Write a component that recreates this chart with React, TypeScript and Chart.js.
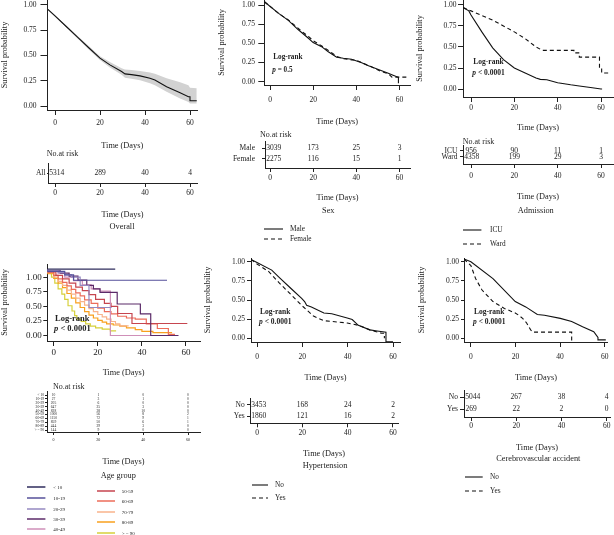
import React, { useEffect, useRef } from 'react';
import { Chart, registerables } from 'chart.js';
Chart.register(...registerables);

const SERIF = '"Liberation Serif", "DejaVu Serif", serif';
const INK = '#222222';
const CURVE = '#111111';

type Pt = [number, number];

// ---------- shared ticks ----------
const TIME_TICKS = [0, 20, 40, 60];
const PROB_TICKS = [0, 0.25, 0.5, 0.75, 1];
const RISK_TIMES = [0, 20, 40, 60];

// ---------- Overall (vertices of the drawn curve) ----------
const OVERALL: Pt[] = [[-3.3,0.957],[0,0.89],[5,0.785],[10,0.68],[15,0.575],[20,0.472],[24.4,0.406],[29.6,0.34],[31.1,0.317],[34,0.31],[37.8,0.297],[42.2,0.274],[44.4,0.257],[49.6,0.19],[55.6,0.13],[59.3,0.092],[60,0.092],[60,0.052],[63,0.052]];
const OVERALL_UPPER: Pt[] = [[-3.3,0.963],[0,0.898],[5,0.795],[10,0.693],[15,0.592],[20,0.49],[24.4,0.435],[29.6,0.372],[31.1,0.36],[34,0.355],[37.8,0.345],[42.2,0.33],[44.4,0.318],[49.6,0.275],[55.6,0.235],[59.3,0.205],[60,0.18],[63,0.175]];
const OVERALL_LOWER: Pt[] = [[-3.3,0.951],[0,0.882],[5,0.775],[10,0.667],[15,0.558],[20,0.454],[24.4,0.38],[29.6,0.308],[31.1,0.28],[34,0.27],[37.8,0.255],[42.2,0.225],[44.4,0.205],[49.6,0.14],[55.6,0.075],[59.3,0.04],[60,0.025],[63,0.025]];
const OVERALL_RISK = [5314, 289, 40, 4];

// ---------- Sex ----------
const MALE: Pt[] = [[-2.6,1.043],[4,0.89],[8.5,0.8],[13,0.68],[17.8,0.566],[20,0.51],[23.9,0.457],[27,0.39],[30.9,0.318],[34,0.305],[37.8,0.292],[42.5,0.248],[45,0.215],[48.7,0.175],[54.8,0.11],[57,0.085],[59.5,0.057],[59.5,-0.02]];
const FEMALE: Pt[] = [[-2.6,1.043],[4,0.89],[8.5,0.805],[15,0.65],[17.8,0.59],[20,0.535],[24,0.465],[28,0.39],[30.9,0.33],[34,0.3],[37.8,0.285],[40,0.28],[42.5,0.25],[47,0.195],[51,0.14],[55,0.1],[56.5,0.06],[64.5,0.06]];
const MALE_RISK = [3039, 173, 25, 3];
const FEMALE_RISK = [2275, 116, 15, 1];

// ---------- Admission ----------
const ICU: Pt[] = [[-3.7,0.97],[-1,0.93],[0,0.88],[5,0.68],[10,0.49],[15,0.35],[20,0.25],[25,0.19],[30,0.13],[32,0.115],[35,0.11],[40,0.075],[46,0.05],[50,0.036],[56,0.015],[60,0.0],[60.5,0.0]];
const WARD: Pt[] = [[-3.7,0.97],[0,0.93],[10,0.82],[20,0.68],[25,0.6],[30,0.5],[33,0.46],[47.5,0.46],[47.5,0.43],[50,0.43],[50,0.38],[59.3,0.38],[59.3,0.26],[60.3,0.26],[60.3,0.19],[63.5,0.19]];
const ICU_RISK = [956, 90, 11, 1];
const WARD_RISK = [4358, 199, 29, 3];

// ---------- Age group (step points) ----------
const AGE_GROUPS = ['< 10', '10-19', '20-29', '30-39', '40-49', '50-59', '60-69', '70-79', '80-89', '> = 90'];
const AGE_COLORS = ['#2f2d5c', '#56509a', '#9488c0', '#5b2a68', '#cf8fb8', '#c6454f', '#ec6d5a', '#f8b38b', '#f8a01e', '#d6d03a'];
const AGE_LT10: Pt[] = [[-2.9,1.137],[27.9,1.137]];
const AGE_10_19: Pt[] = [[-2.9,1.137],[5,1.1],[9,1.04],[12,0.948],[51.4,0.948]];
const AGE_20_29: Pt[] = [[-2.9,1.137],[2,1.11],[5,1.08],[8,1.04],[12,1.0],[16,0.86],[21.5,0.48],[26.3,0.48]];
const AGE_30_39: Pt[] = [[-2.9,1.137],[3,1.11],[7,1.07],[11,1.02],[15,0.95],[18,0.86],[21,0.8],[28.8,0.74],[39.3,0.54],[44,0.37],[56.6,0.0]];
const AGE_40_49: Pt[] = [[-2.9,1.137],[2,1.11],[5,1.07],[9,1.0],[13,0.94],[17,0.87],[21,0.8],[25.7,0.76],[49.9,0.0]];
const AGE_50_59: Pt[] = [[-2.9,1.137],[1,1.09],[4,1.03],[7,0.97],[10,0.9],[13,0.83],[16,0.77],[19,0.7],[23,0.62],[26,0.55],[29,0.5],[35.5,0.377],[56,0.206],[60.6,0.206]];
const AGE_60_69: Pt[] = [[-2.9,1.137],[0,1.09],[2,1.03],[4,0.97],[6,0.91],[8,0.85],[10,0.79],[12,0.73],[14,0.68],[17,0.61],[20,0.55],[23,0.47],[26,0.41],[29,0.37],[33,0.33],[37,0.3],[42,0.28],[47,0.2],[52,0.12],[55,0.02]];
const AGE_70_79: Pt[] = [[-2.9,1.137],[0,1.08],[2,1.0],[4,0.93],[6,0.86],[8,0.78],[10,0.71],[12,0.64],[14,0.58],[16,0.52],[18,0.46],[20,0.41],[22,0.36],[24,0.32],[26,0.28],[28,0.24],[30,0.2],[31,0.165],[34,0.165]];
const AGE_80_89: Pt[] = [[-2.9,1.137],[0,1.06],[2,0.98],[4,0.9],[6,0.82],[8,0.72],[10,0.64],[12,0.56],[14,0.48],[16,0.41],[18,0.35],[20,0.3],[22,0.26],[24,0.23],[27,0.2],[30,0.18],[33,0.16],[37,0.13],[40,0.1],[45,0.07],[50,0.05],[53.7,0.05]];
const AGE_GE90: Pt[] = [[-2.9,1.137],[-1,1.08],[0.5,1.0],[2,0.9],[3.7,0.8],[5,0.71],[6.5,0.62],[8.3,0.51],[9.5,0.42],[10.5,0.34],[12.5,0.28],[14.5,0.24],[16.6,0.2],[19,0.16],[22,0.13],[25.7,0.11],[27,0.08],[28.3,0.08]];
const AGE_RISK_LT10 = [10, 1, 0, 0];
const AGE_RISK_10_19 = [27, 3, 1, 0];
const AGE_RISK_20_29 = [205, 6, 0, 0];
const AGE_RISK_30_39 = [647, 25, 3, 0];
const AGE_RISK_40_49 = [828, 38, 10, 0];
const AGE_RISK_50_59 = [1000, 56, 8, 2];
const AGE_RISK_60_69 = [1150, 72, 9, 1];
const AGE_RISK_70_79 = [859, 50, 6, 1];
const AGE_RISK_80_89 = [444, 29, 3, 0];
const AGE_RISK_GE90 = [144, 9, 0, 0];

// ---------- Hypertension ----------
const HYP_NO: Pt[] = [[-2.65,1.03],[0,0.99],[6.5,0.89],[10,0.79],[15,0.65],[19.7,0.52],[21,0.48],[21.9,0.43],[24,0.41],[29.5,0.33],[33,0.32],[39.8,0.265],[42,0.245],[44.7,0.17],[49.8,0.11],[53,0.095],[56.9,0.078],[56.9,-0.045],[60,-0.045]];
const HYP_YES: Pt[] = [[-2.65,1.03],[0,0.97],[5.2,0.87],[9.9,0.72],[15,0.57],[19.7,0.43],[24.9,0.29],[29.5,0.23],[33,0.22],[39.8,0.2],[44.7,0.17],[49.8,0.11],[55,0.065],[56.2,0.065],[56.2,0.0]];
const HYP_NO_RISK = [3453, 168, 24, 2];
const HYP_YES_RISK = [1860, 121, 16, 2];

// ---------- Cerebrovascular accident ----------
const CVA_NO: Pt[] = [[-3.1,1.035],[0,1.0],[9.9,0.78],[19.9,0.48],[24.6,0.41],[29.8,0.31],[33,0.3],[40.1,0.26],[45.2,0.22],[50.1,0.15],[55.1,0.087],[57,0.01],[57,-0.02],[60.5,-0.02]];
const CVA_YES: Pt[] = [[-3.1,1.035],[0,0.95],[2.1,0.78],[5,0.63],[9.9,0.48],[15,0.39],[19.9,0.33],[21.5,0.3],[23.2,0.26],[25,0.2],[26.8,0.11],[27.9,0.08],[45.2,0.08],[45.2,-0.05]];
const CVA_NO_RISK = [5044, 267, 38, 4];
const CVA_YES_RISK = [269, 22, 2, 0];

// ---------- chart builders ----------
type Series = { data: Pt[]; color: string; width: number; dash?: number[]; stepped?: boolean };
type KMSpec = {
  box: [number, number, number, number];
  plot: [number, number, number, number];
  dayPx: [number, number];
  probPx: [number, number];
  tickSize: number;
  xPad: number;
  yLen: number;
  yPad: number;
  series: Series[];
  band?: { upper: Pt[]; lower: Pt[]; color: string };
};
type RiskSpec = {
  box: [number, number, number, number];
  plot: [number, number, number, number];
  dayPx: [number, number];
  rowTop: number;
  rowStep: number;
  labels: string[];
  counts: number[][];
  tickSize: number;
  numSize: number;
  xLen: number;
  xPad: number;
  yLen: number;
  yPad: number;
};

const toXY = (p: Pt[]) => p.map(([x, y]) => ({ x, y }));
const font = (size: number) => ({ family: SERIF, size });

function xAxis(min: number, max: number, height: number, tickSize: number, tickLen: number, pad: number) {
  return {
    type: 'linear' as const,
    bounds: 'data' as const,
    min,
    max,
    afterBuildTicks: (sc: any) => { sc.ticks = TIME_TICKS.map((v) => ({ value: v })); },
    afterFit: (sc: any) => { sc.height = height; },
    ticks: { autoSkip: false, maxRotation: 0, minRotation: 0, padding: pad, color: INK, font: font(tickSize), callback: (v: any) => String(v) },
    grid: { drawOnChartArea: false, drawTicks: true, tickLength: tickLen, color: INK, lineWidth: 1 },
    border: { display: true, color: INK, width: 1 },
    title: { display: true, text: 'Time (Days)', color: INK, font: font(8.3), padding: 0 },
  };
}

function makeKM(canvas: HTMLCanvasElement, s: KMSpec) {
  const [cl, ct, cw, ch] = s.box;
  const [pl, pt, pr, pb] = s.plot;
  const ppd = (s.dayPx[1] - s.dayPx[0]) / 60;
  const ppu = s.probPx[0] - s.probPx[1];
  const datasets: any[] = [];
  // curves first: Chart.js paints lower-index datasets on top
  s.series.forEach((se) => datasets.push({ data: toXY(se.data), stepped: se.stepped ? 'after' : false, borderColor: se.color, borderWidth: se.width, borderDash: se.dash || [], pointRadius: 0, fill: false, tension: 0 }));
  if (s.band) {
    datasets.push({ data: toXY(s.band.upper), borderWidth: 0, borderColor: 'rgba(0,0,0,0)', pointRadius: 0, backgroundColor: s.band.color, fill: '+1' });
    datasets.push({ data: toXY(s.band.lower), borderWidth: 0, borderColor: 'rgba(0,0,0,0)', pointRadius: 0, fill: false });
  }
  return new Chart(canvas, {
    type: 'line',
    data: { datasets },
    options: {
      responsive: false,
      animation: false,
      devicePixelRatio: 1,
      events: [],
      layout: { padding: { left: 0, top: pt - ct, right: cl + cw - pr, bottom: 0 } },
      plugins: { legend: { display: false }, tooltip: { enabled: false }, title: { display: false } },
      scales: {
        x: xAxis((pl - s.dayPx[0]) / ppd, (pr - s.dayPx[0]) / ppd, ct + ch - pb, s.tickSize, 5, s.xPad),
        y: {
          type: 'linear',
          bounds: 'data',
          min: (s.probPx[0] - pb) / ppu,
          max: (s.probPx[0] - pt) / ppu,
          afterBuildTicks: (sc: any) => { sc.ticks = PROB_TICKS.map((v) => ({ value: v })); },
          afterFit: (sc: any) => { sc.width = pl - cl; },
          ticks: { autoSkip: false, padding: s.yPad, color: INK, font: font(s.tickSize), callback: (v: any) => Number(v).toFixed(2) },
          grid: { drawOnChartArea: false, drawTicks: true, tickLength: s.yLen, color: INK, lineWidth: 1 },
          border: { display: true, color: INK, width: 1 },
          title: { display: true, text: 'Survival probability', color: INK, font: font(8.3), padding: 0 },
        },
      },
    } as any,
  });
}

const riskNumbers = {
  id: 'riskNumbers',
  afterDatasetsDraw(chart: any, _a: any, opts: any) {
    const ctx = chart.ctx;
    const left = chart.chartArea.left;
    ctx.save();
    ctx.font = `${opts.size}px ${SERIF}`;
    ctx.fillStyle = INK;
    ctx.textAlign = 'center';
    ctx.textBaseline = 'middle';
    chart.data.datasets.forEach((ds: any, i: number) => {
      chart.getDatasetMeta(i).data.forEach((el: any, j: number) => {
        const txt = String(ds.counts[j]);
        const w = ctx.measureText(txt).width;
        const x = Math.max(el.x, left + 1.2 + w / 2);
        ctx.fillText(txt, x, el.y);
      });
    });
    ctx.restore();
  },
};

function makeRisk(canvas: HTMLCanvasElement, s: RiskSpec) {
  const [cl, ct, cw, ch] = s.box;
  const [pl, pt, pr, pb] = s.plot;
  const ppd = (s.dayPx[1] - s.dayPx[0]) / 60;
  const n = s.labels.length;
  const datasets = s.counts.map((c, i) => ({
    data: RISK_TIMES.map((t) => ({ x: t, y: n - i })),
    counts: c,
    pointRadius: 0,
  }));
  return new Chart(canvas, {
    type: 'scatter',
    data: { datasets } as any,
    options: {
      responsive: false,
      animation: false,
      devicePixelRatio: 1,
      events: [],
      layout: { padding: { left: 0, top: pt - ct, right: cl + cw - pr, bottom: 0 } },
      plugins: { legend: { display: false }, tooltip: { enabled: false }, title: { display: false }, riskNumbers: { size: s.numSize } },
      scales: {
        x: xAxis((pl - s.dayPx[0]) / ppd, (pr - s.dayPx[0]) / ppd, ct + ch - pb, s.tickSize, s.xLen, s.xPad),
        y: {
          type: 'linear',
          bounds: 'data',
          min: n - (pb - s.rowTop) / s.rowStep,
          max: n + (s.rowTop - pt) / s.rowStep,
          afterBuildTicks: (sc: any) => { sc.ticks = s.labels.map((_, i) => ({ value: n - i })); },
          afterFit: (sc: any) => { sc.width = pl - cl; },
          ticks: { autoSkip: false, padding: s.yPad, color: INK, font: font(s.numSize), callback: (v: any) => s.labels[n - Number(v)] },
          grid: { drawOnChartArea: false, drawTicks: true, tickLength: s.yLen, color: INK, lineWidth: 1 },
          border: { display: true, color: INK, width: 1 },
        },
      },
    } as any,
    plugins: [riskNumbers as any],
  });
}

// ---------- panel specs ----------
const BLACK = (data: Pt[], dash?: number[]): Series => ({ data, color: CURVE, width: 1.1, dash });
const DASH = [4, 3];

const KM_SPECS: KMSpec[] = [
  { box: [0, -10, 206, 161], plot: [47.5, 0, 197, 110], dayPx: [55, 190], probPx: [106, 4.7], tickSize: 7.5, xPad: 3.5, yLen: 7, yPad: 4,
    series: [BLACK(OVERALL)], band: { upper: OVERALL_UPPER, lower: OVERALL_LOWER, color: '#d2d2d2' } },
  { box: [217, -10, 200, 137], plot: [264.3, 0, 410, 85], dayPx: [270, 399.5], probPx: [81.7, 5], tickSize: 7.5, xPad: 5.5, yLen: 6, yPad: 3.3,
    series: [BLACK(MALE), BLACK(FEMALE, DASH)] },
  { box: [415, -10, 199, 143], plot: [463, 0, 613, 97], dayPx: [471, 601], probPx: [89, 5], tickSize: 7.5, xPad: 1.5, yLen: 5, yPad: 1.5,
    series: [BLACK(ICU), BLACK(WARD, DASH)] },
  { box: [0, 254, 206, 124], plot: [47.3, 264, 200, 341], dayPx: [53.7, 186], probPx: [335.5, 277.2], tickSize: 9, xPad: 1.6, yLen: 4, yPad: 1.6,
    series: [AGE_LT10, AGE_10_19, AGE_20_29, AGE_30_39, AGE_40_49, AGE_50_59, AGE_60_69, AGE_70_79, AGE_80_89, AGE_GE90].map((d, i) => ({ data: d, color: AGE_COLORS[i], width: 1.2, stepped: true })) },
  { box: [203, 248, 205, 135], plot: [251, 258, 400, 342], dayPx: [257, 393], probPx: [338.3, 261.7], tickSize: 7.5, xPad: 5.5, yLen: 4, yPad: 2,
    series: [BLACK(HYP_NO), BLACK(HYP_YES, DASH)] },
  { box: [417, 248, 197, 135], plot: [464, 258, 610, 342], dayPx: [471, 606.7], probPx: [338.3, 261.7], tickSize: 7.5, xPad: 5.5, yLen: 3, yPad: 2,
    series: [BLACK(CVA_NO), BLACK(CVA_YES, DASH)] },
];

const RISK_SPECS: RiskSpec[] = [
  { box: [0, 150, 206, 70], plot: [48, 163, 197, 183], dayPx: [55, 190], rowTop: 173, rowStep: 10, labels: ['All'], counts: [OVERALL_RISK],
    tickSize: 7.5, numSize: 7.5, xLen: 4, xPad: 1.5, yLen: 1, yPad: 1.5 },
  { box: [205, 130, 212, 73], plot: [265, 140, 410, 168], dayPx: [270, 399.5], rowTop: 147, rowStep: 11, labels: ['Male', 'Female'], counts: [MALE_RISK, FEMALE_RISK],
    tickSize: 7.5, numSize: 7.5, xLen: 4, xPad: 1.5, yLen: 3, yPad: 7 },
  { box: [410, 135, 204, 67], plot: [463, 145, 613, 164], dayPx: [471, 601], rowTop: 150.7, rowStep: 6, labels: ['ICU', 'Ward'], counts: [ICU_RISK, WARD_RISK],
    tickSize: 7.5, numSize: 7.5, xLen: 4, xPad: 3.5, yLen: 3, yPad: 2.5 },
  { box: [0, 383, 206, 84], plot: [47, 391, 200, 432], dayPx: [53.5, 188], rowTop: 395, rowStep: 3.9, labels: AGE_GROUPS,
    counts: [AGE_RISK_LT10, AGE_RISK_10_19, AGE_RISK_20_29, AGE_RISK_30_39, AGE_RISK_40_49, AGE_RISK_50_59, AGE_RISK_60_69, AGE_RISK_70_79, AGE_RISK_80_89, AGE_RISK_GE90],
    tickSize: 4, numSize: 3.6, xLen: 3, xPad: 2.6, yLen: 2, yPad: 1 },
  { box: [205, 388, 203, 71], plot: [250, 398, 398, 423.3], dayPx: [257, 393], rowTop: 405, rowStep: 11, labels: ['No', 'Yes'], counts: [HYP_NO_RISK, HYP_YES_RISK],
    tickSize: 7.5, numSize: 7.5, xLen: 4, xPad: 1.2, yLen: 3, yPad: 2.3 },
  { box: [410, 380, 204, 73], plot: [464, 390, 610, 417], dayPx: [471, 606.7], rowTop: 397, rowStep: 12, labels: ['No', 'Yes'], counts: [CVA_NO_RISK, CVA_YES_RISK],
    tickSize: 7.5, numSize: 7.5, xLen: 4, xPad: 0.5, yLen: 4, yPad: 2 },
];

// ---------- components ----------
function ChartCanvas({ box, build }: { box: number[]; build: (c: HTMLCanvasElement) => Chart }) {
  const ref = useRef<HTMLCanvasElement>(null);
  useEffect(() => {
    const chart = build(ref.current as HTMLCanvasElement);
    return () => chart.destroy();
  }, []);
  return (
    <canvas ref={ref} width={box[2]} height={box[3]}
      style={{ position: 'absolute', left: box[0], top: box[1], width: box[2], height: box[3] }} />
  );
}

function Txt({ x, y, size = 8, align = 'left', bold = false, children }: any) {
  const tx = align === 'center' ? '-50%' : align === 'right' ? '-100%' : '0';
  return (
    <div style={{ position: 'absolute', left: x, top: y, transform: `translate(${tx},-50%)`, fontFamily: SERIF, fontSize: size,
      lineHeight: 1, whiteSpace: 'nowrap', color: INK, fontWeight: bold ? 700 : 400 }}>{children}</div>
  );
}

function LogRank({ x, y1, y2, p, size }: { x: number; y1: number; y2: number; p: string; size: number }) {
  return (
    <>
      <Txt x={x} y={y1} size={size} bold>Log-rank</Txt>
      <Txt x={x - 1} y={y2} size={size} bold><i>p</i> {p}</Txt>
    </>
  );
}

function Swatch({ x1, x2, y, color, dash, width = 1.1, label, lx, size = 7.3 }: any) {
  return (
    <>
      <svg style={{ position: 'absolute', left: x1, top: y - 2 }} width={x2 - x1} height={4}>
        <line x1={0} y1={2} x2={x2 - x1} y2={2} stroke={color} strokeWidth={width} strokeDasharray={dash ? dash.join(' ') : undefined} />
      </svg>
      <Txt x={lx} y={y} size={size}>{label}</Txt>
    </>
  );
}

const AGE_LEG_LEFT_Y = [487.3, 498, 508.7, 519, 529.3];
const AGE_LEG_RIGHT_Y = [491, 501.3, 511.7, 522, 533.3];

export default function App() {
  return (
    <div style={{ position: 'fixed', left: 0, top: 0, width: 614, height: 535, overflow: 'hidden', background: '#ffffff' }}>
      {KM_SPECS.map((s, i) => <ChartCanvas key={'km' + i} box={s.box} build={(c) => makeKM(c, s)} />)}
      {RISK_SPECS.map((s, i) => <ChartCanvas key={'rk' + i} box={s.box} build={(c) => makeRisk(c, s)} />)}

      <LogRank x={273.3} y1={58.3} y2={70.7} p="= 0.5" size={7.2} />
      <LogRank x={473.3} y1={62} y2={73} p="< 0.0001" size={7.5} />
      <LogRank x={55} y1={318.3} y2={328.3} p="< 0.0001" size={8.5} />
      <LogRank x={260} y1={311.7} y2={321.7} p="< 0.0001" size={7.5} />
      <LogRank x={474} y1={311.7} y2={321.7} p="< 0.0001" size={7.5} />

      <Txt x={46.7} y={154} size={8}>No.at risk</Txt>
      <Txt x={260} y={135} size={8}>No.at risk</Txt>
      <Txt x={462.7} y={141.7} size={8}>No.at risk</Txt>
      <Txt x={53} y={386.7} size={8}>No.at risk</Txt>

      <Txt x={122} y={227.3} size={8.3} align="center">Overall</Txt>
      <Txt x={328.3} y={210.7} size={8.3} align="center">Sex</Txt>
      <Txt x={535.8} y={211} size={8.3} align="center">Admission</Txt>
      <Txt x={118.3} y={476} size={8.3} align="center">Age group</Txt>
      <Txt x={325} y={465.7} size={8.3} align="center">Hypertension</Txt>
      <Txt x={538.3} y={459} size={8.3} align="center">Cerebrovascular accident</Txt>

      <Swatch x1={264.3} x2={283.3} y={229} color={CURVE} label="Male" lx={290} />
      <Swatch x1={264.3} x2={283.3} y={239} color={CURVE} dash={DASH} label="Female" lx={290} />
      <Swatch x1={463.3} x2={481.7} y={230} color={CURVE} label="ICU" lx={490} />
      <Swatch x1={463.3} x2={481.7} y={244} color={CURVE} dash={DASH} label="Ward" lx={490} />
      <Swatch x1={251.7} x2={268.3} y={485} color={CURVE} label="No" lx={275} />
      <Swatch x1={251.7} x2={268.3} y={498.3} color={CURVE} dash={DASH} label="Yes" lx={275} />
      <Swatch x1={465} x2={482.7} y={476.7} color={CURVE} label="No" lx={490} />
      <Swatch x1={465} x2={482.7} y={491} color={CURVE} dash={DASH} label="Yes" lx={490} />

      {AGE_LEG_LEFT_Y.map((y, i) => (
        <Swatch key={'al' + i} x1={27.3} x2={45.7} y={y} color={AGE_COLORS[i]} width={1.5} label={AGE_GROUPS[i]} lx={53.3} size={5} />
      ))}
      {AGE_LEG_RIGHT_Y.map((y, i) => (
        <Swatch key={'ar' + i} x1={96.7} x2={115} y={y} color={AGE_COLORS[i + 5]} width={1.5} label={AGE_GROUPS[i + 5]} lx={121.7} size={5} />
      ))}
    </div>
  );
}
